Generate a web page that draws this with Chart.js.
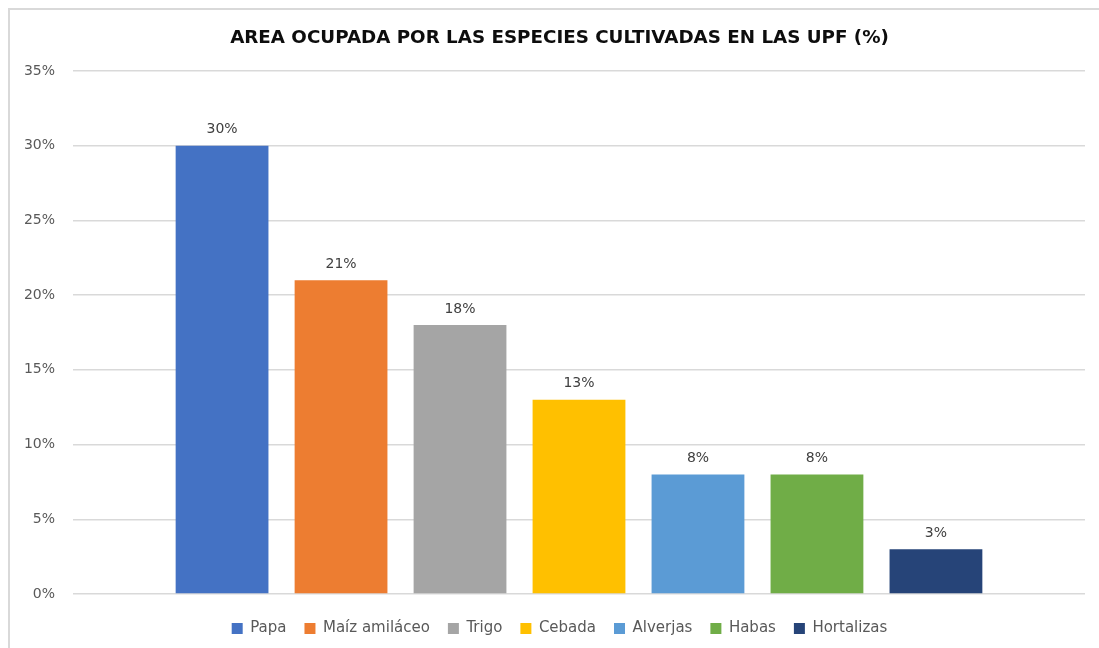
<!DOCTYPE html>
<html>
<head>
<meta charset="utf-8">
<script src="https://cdn.jsdelivr.net/npm/chart.js@4/dist/chart.umd.min.js"></script>
<style>
  html, body { margin: 0; padding: 0; background: #fff; overflow: hidden; width: 1099px; height: 648px; }
  .linea { position: absolute; background: #d9d9d9; }
  #lineaSup { left: 8px; top: 8px; width: 1091px; height: 2px; }
  #lineaIzq { left: 8px; top: 8px; width: 2px; height: 640px; }
  #wrap { position: absolute; left: 0; top: 0; width: 1099px; height: 648px; }
</style>
</head>
<body>
<div class="linea" id="lineaSup"></div>
<div class="linea" id="lineaIzq"></div>
<div id="wrap"><canvas id="areaChart"></canvas></div>
<script>
// datos del grafico
var especies = ["Papa", "Maíz amiláceo", "Trigo", "Cebada", "Alverjas", "Habas", "Hortalizas"];
var porcentajes = [30, 21, 18, 13, 8, 8, 3];
var colores = ["#4472C4", "#ED7D31", "#A5A5A5", "#FFC000", "#5B9BD5", "#70AD47", "#264478"];
var ticksY = [0, 5, 10, 15, 20, 25, 30, 35];

var fuente = "'DejaVu Sans', Verdana, sans-serif";

// una serie por especie, como en Excel
var datasets = especies.map(function (nombre, i) {
  return {
    label: nombre,
    data: [porcentajes[i]],
    backgroundColor: colores[i],
    borderWidth: 0,
    categoryPercentage: 0.823,
    barPercentage: 0.78
  };
});

// etiquetas de valor encima de cada barra
var etiquetasValor = {
  id: "etiquetasValor",
  afterDatasetsDraw: function (chart) {
    var ctx = chart.ctx;
    ctx.save();
    ctx.font = "14px " + fuente;
    ctx.fillStyle = "#404040";
    ctx.textAlign = "center";
    ctx.textBaseline = "middle";
    chart.data.datasets.forEach(function (ds, i) {
      var bar = chart.getDatasetMeta(i).data[0];
      ctx.fillText(ds.data[0] + "%", bar.x, bar.y - 16);
    });
    ctx.restore();
  }
};

// titulo y leyenda centrados sobre todo el ancho (no solo hasta el margen derecho)
var centrarCajas = {
  id: "centrarCajas",
  afterLayout: function (chart) {
    var extra = chart.options.layout.padding.right;
    [chart.titleBlock, chart.legend].forEach(function (b) {
      if (!b) return;
      b.right += extra;
      b.width += extra;
    });
  }
};

var ctx = document.getElementById("areaChart").getContext("2d");
var miGrafico = new Chart(ctx, {
  type: "bar",
  data: {
    labels: [""],
    datasets: datasets
  },
  plugins: [etiquetasValor, centrarCajas],
  options: {
    responsive: true,
    maintainAspectRatio: false,
    animation: false,
    layout: {
      padding: { left: 20, right: 14, top: 0, bottom: 2 }
    },
    scales: {
      x: {
        ticks: { display: false },
        grid: { display: false },
        border: { display: false },
        afterFit: function (s) { s.height = 9; }
      },
      y: {
        min: 0,
        max: 35,
        afterBuildTicks: function (s) {
          s.ticks = ticksY.map(function (v) { return { value: v }; });
        },
        afterFit: function (s) { s.width = 53; },
        ticks: {
          padding: 18,
          color: "#595959",
          font: { family: fuente, size: 14 },
          callback: function (v) { return v + "%"; }
        },
        grid: { color: "#d9d9d9", lineWidth: 1.5, drawTicks: false },
        border: { display: false }
      }
    },
    plugins: {
      title: {
        display: true,
        text: "AREA OCUPADA POR LAS ESPECIES CULTIVADAS EN LAS UPF (%)",
        color: "#0d0d0d",
        font: { family: fuente, size: 18.3, weight: "bold" },
        padding: { top: 27, bottom: 22 }
      },
      legend: {
        position: "bottom",
        labels: {
          boxWidth: 11,
          boxHeight: 11,
          padding: 18,
          color: "#595959",
          font: { family: fuente, size: 15 }
        }
      },
      tooltip: { enabled: false }
    }
  }
});
</script>
</body>
</html>
